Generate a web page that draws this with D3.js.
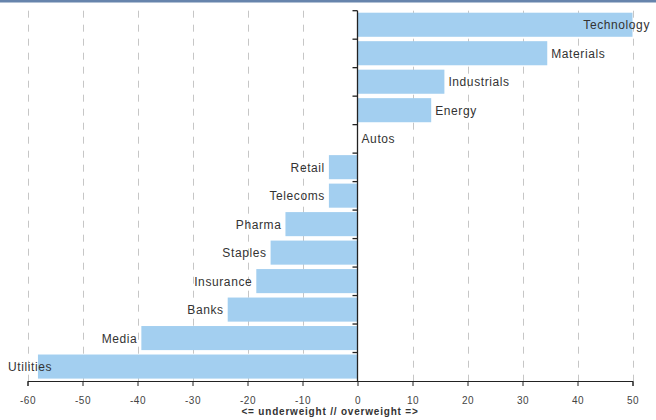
<!DOCTYPE html>
<html>
<head>
<meta charset="utf-8">
<script src="https://cdn.jsdelivr.net/npm/d3@7"></script>
<style>
  html, body { margin: 0; padding: 0; background: #fff; }
  svg { display: block; font-family: "Liberation Sans", Arial, sans-serif; }
</style>
</head>
<body>
<svg id="chart" width="656" height="420"></svg>
<script>
const categories = ["Technology", "Materials", "Industrials", "Energy", "Autos", "Retail", "Telecoms", "Pharma", "Staples", "Insurance", "Banks", "Media", "Utilities"];
const values = [50, 34.5, 15.8, 13.4, 0, -5.2, -5.2, -13.1, -15.8, -18.4, -23.6, -39.3, -58.1];
const xTicks = [-60, -50, -40, -30, -20, -10, 0, 10, 20, 30, 40, 50];
const axisTitle = "<= underweight // overweight =>";

(function () {
const svg = d3.select("#chart");
const W = 656, H = 420;
const mLeft = 27.5, mRight = 632.5, mTop = 10.7, mBottom = 381;

const x = d3.scaleLinear().domain([-60, 50]).range([mLeft, mRight]);
const y = d3.scaleBand().domain(categories).range([mTop, mBottom]).paddingInner(0).paddingOuter(0);

// top border
svg.append("rect").attr("x", 0).attr("y", 0).attr("width", W).attr("height", 2.5).attr("fill", "#6784ac");

// gridlines
svg.append("g").selectAll("line").data(xTicks.filter(t => t !== 0)).join("line")
  .attr("x1", d => Math.round(x(d)) + 0.5).attr("x2", d => Math.round(x(d)) + 0.5)
  .attr("y1", mTop).attr("y2", mBottom)
  .attr("stroke", "#c6c6c6").attr("stroke-width", 1).attr("stroke-dasharray", "7,7");

// bars
const bw = y.bandwidth();
svg.append("g").selectAll("rect").data(categories).join("rect")
  .attr("x", (d, i) => x(Math.min(0, values[i])))
  .attr("width", (d, i) => Math.abs(x(values[i]) - x(0)))
  .attr("y", d => y(d) + 2)
  .attr("height", bw - 4.4)
  .attr("fill", "#a3cff0");

// x axis
const xAxis = d3.axisBottom(x).tickValues(xTicks).tickSize(5).tickPadding(11).tickFormat(d => String(d));
const gx = svg.append("g").attr("transform", `translate(0,${mBottom})`).call(xAxis);
gx.select(".domain").attr("stroke", "#222");
gx.selectAll(".tick line").attr("stroke", "#222");
gx.selectAll(".tick text").attr("fill", "#444").style("font-size", "10px").style("letter-spacing", "0.5px")
  .style("font-family", "'Liberation Sans', Arial, sans-serif");

// y axis at zero
const yTickPos = categories.map(c => y(c));
const yAxisG = svg.append("g");
yAxisG.append("line").attr("x1", x(0)).attr("x2", x(0)).attr("y1", mTop).attr("y2", mBottom)
  .attr("stroke", "#222").attr("stroke-width", 1.3);
yAxisG.selectAll("line.t").data(yTickPos).join("line").attr("class", "t")
  .attr("x1", x(0) - 5).attr("x2", x(0)).attr("y1", d => d).attr("y2", d => d)
  .attr("stroke", "#222").attr("stroke-width", 1.3);

// axis title
svg.append("text").attr("x", (mLeft + mRight) / 2).attr("y", 415).attr("text-anchor", "middle")
  .attr("fill", "#333").style("font-size", "10px").style("font-weight", "bold").style("letter-spacing", "0.8px")
  .text(axisTitle);

// category labels
const lab = svg.append("g").selectAll("text").data(categories).join("text")
  .attr("y", d => y(d) + bw / 2 + 4.5)
  .attr("fill", "#333")
  .style("font-size", "12px").style("letter-spacing", "0.6px")
  .text(d => d);
lab.each(function(d, i) {
  const t = d3.select(this);
  const w = this.getComputedTextLength();
  const v = values[i];
  let sx;
  if (v >= 0) {
    sx = x(v) + 4;
    if (sx + w > 650) sx = 650 - w;
  } else {
    sx = x(v) - 4 - w;
    if (sx < 8) sx = 8;
  }
  t.attr("x", sx);
});
})();
</script>
</body>
</html>
